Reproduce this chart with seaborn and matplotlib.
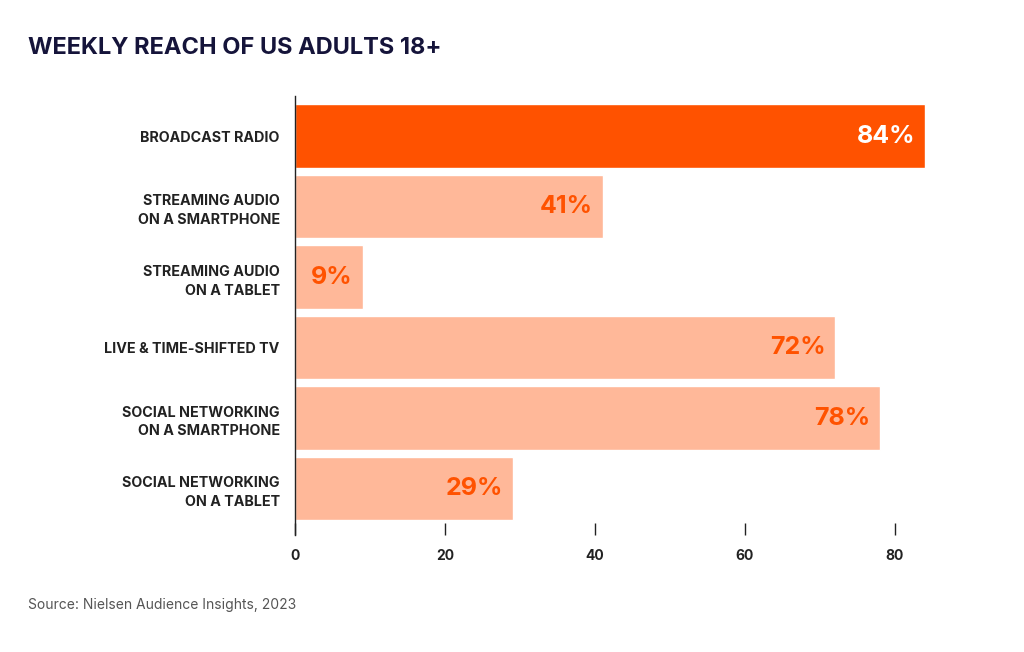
import pandas as pd
import seaborn as sns
from matplotlib import pyplot as plt

categories = ["BROADCAST RADIO",
              "STREAMING AUDIO\nON A SMARTPHONE",
              "STREAMING AUDIO\nON A TABLET",
              "LIVE & TIME-SHIFTED TV",
              "SOCIAL NETWORKING\nON A SMARTPHONE",
              "SOCIAL NETWORKING\nON A TABLET"]
reach = [84, 41, 9, 72, 78, 29]
bar_colors = ["#FF5200", "#FFB899", "#FFB899", "#FFB899", "#FFB899", "#FFB899"]
label_colors = ["white", "#FF5200", "#FF5200", "#FF5200", "#FF5200", "#FF5200"]
xticks = [0, 20, 40, 60, 80]

sns.set_style("white")
plt.rcParams['font.family'] = ['Inter', 'DejaVu Sans']

df = pd.DataFrame({"category": categories, "reach": reach})

fig = plt.figure(figsize=(10.24, 6.52), dpi=100)
ax = fig.add_axes([295 / 1024, 117 / 652, 645 / 1024, 439 / 652])
sns.barplot(data=df, x="reach", y="category", hue="category",
            palette=bar_colors, width=0.9, legend=False, ax=ax, saturation=1)

for i, (v, c) in enumerate(zip(reach, label_colors)):
    ax.annotate(str(v) + "%", xy=(v, i), xytext=(-7, 0), textcoords="offset points",
                ha="right", va="center", fontsize=18, fontweight="bold", color=c)

ax.set_xlim(0, 86)
ax.set_ylim(5.66, -0.57)
ax.set_xticks(xticks)
ax.set_xlabel("")
ax.set_ylabel("")
for s in ["top", "right", "bottom"]:
    ax.spines[s].set_visible(False)
ax.spines["left"].set_color("#222222")
ax.spines["left"].set_linewidth(1)
ax.tick_params(axis="x", bottom=True, direction="in", length=9, width=1, color="#222222",
               labelsize=10, pad=10, labelcolor="#222222")
ax.tick_params(axis="y", left=False, length=0, labelsize=10.3, pad=11, labelcolor="#222222")
for lbl in ax.get_xticklabels() + ax.get_yticklabels():
    lbl.set_fontweight("bold")
for lbl in ax.get_yticklabels():
    lbl.set_horizontalalignment("right")
    lbl.set_multialignment("right")
    lbl.set_linespacing(1.45)

fig.text(28 / 1024, 1 - 48 / 652, "WEEKLY REACH OF US ADULTS 18+", fontsize=17,
         fontweight="bold", color="#15143A", va="center", ha="left")
fig.text(28 / 1024, 1 - 605 / 652, "Source: Nielsen Audience Insights, 2023", fontsize=10,
         color="#555555", va="center", ha="left")

fig.savefig("out.png", dpi=100)
